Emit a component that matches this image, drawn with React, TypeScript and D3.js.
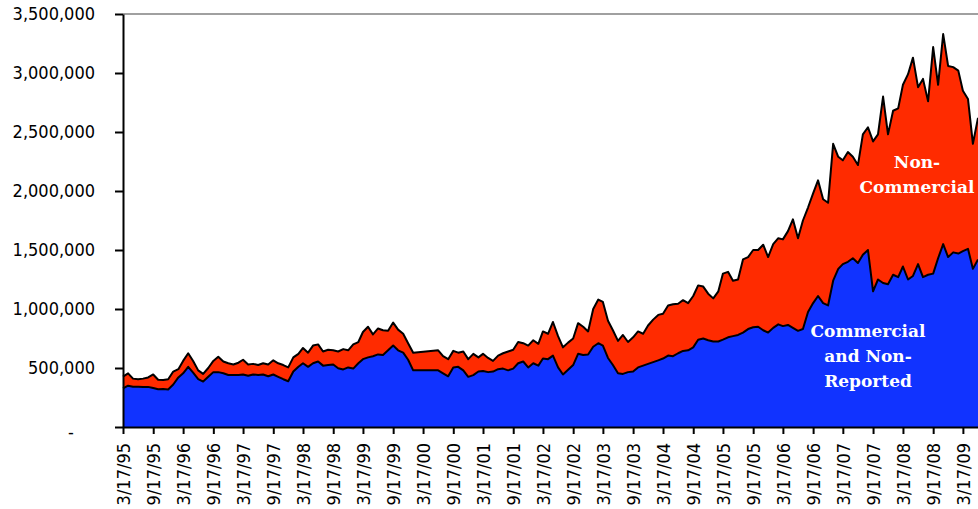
import React, { useEffect, useRef } from 'react';
import * as d3 from 'd3';

// monthly open interest (thousands of contracts), starting 3/17/95
const startDate = '3/17/95';

const totalOI = [
  427, 455, 410, 405, 410, 420, 445, 400, 398, 405, 470, 490,
  560, 625, 560, 480, 450, 500, 560, 595, 555, 540, 530, 545,
  570, 530, 535, 525, 540, 530, 565, 540, 525, 505, 590, 620,
  670, 630, 690, 700, 640, 655, 650, 640, 660, 650, 700, 720,
  805, 850, 785, 835, 820, 815, 885, 825, 790, 710, 630, null,
  null, null, null, 650, 600, 575, 645, 630, 640, 575, 620, 590,
  620, 585, 560, 605, 625, 640, 655, 720, 710, 690, 735, 705,
  810, 790, 890, 770, 675, 715, 750, 880, 850, 810, 1000, 1080,
  1060, 900, 820, 730, 780, 720, 760, 810, 790, 860, 910, 950,
  960, 1030, 1040, 1045, 1075, 1050, 1110, 1200, 1190, 1130, 1090, 1150,
  1300, 1315, 1240, 1250, 1420, 1440, 1500, 1500, 1545, 1440, 1550, 1600,
  1590, 1660, 1760, 1600, 1750, 1860, 1980, 2090, 1930, 1900, 2400, 2290,
  2260, 2330, 2290, 2220, 2480, 2540, 2420, 2480, 2800, 2480, 2680, 2700,
  2900, 2990, 3130, 2880, 2950, 2760, 3220, 2900, 3330, 3060, 3050, 3020,
  2850, 2780, 2400, 2620,
];

const commercialOI = [
  328, 350, 342, 342, 340, 340, 330, 320, 322, 318, 360, 420,
  455, 510, 460, 405, 385, 425, 465, 465, 455, 441, 440, 440,
  445, 435, 445, 440, 445, 430, 445, 425, 405, 388, 470, 510,
  540, 510, 540, 555, 520, 525, 530, 498, 488, 505, 495, 540,
  575, 590, 600, 615, 610, 650, 690, 650, 630, 570, 480, null,
  null, null, null, 480, 455, 430, 505, 510, 480, 425, 440, 470,
  475, 465, 470, 490, 495, 480, 495, 540, 555, 505, 540, 520,
  580, 575, 605, 505, 445, 485, 525, 620, 610, 615, 680, 710,
  690, 585, 525, 455, 450, 465, 470, 505, 520, 535, 550, 565,
  580, 605, 600, 625, 645, 650, 675, 740, 750, 735, 725, 725,
  740, 760, 770, 780, 800, 830, 845, 850, 820, 800, 840, 870,
  855, 865, 840, 815, 830, 975, 1050, 1110, 1050, 1030, 1240, 1340,
  1380, 1400, 1430, 1390, 1460, 1500, 1150, 1250, 1220, 1210, 1290, 1270,
  1360, 1250, 1280, 1380, 1270, 1290, 1300, 1430, 1550, 1440, 1480, 1470,
  1490, 1510, 1340, 1420,
];

const xTickLabels = [
  '3/17/95', '9/17/95', '3/17/96', '9/17/96', '3/17/97', '9/17/97', '3/17/98', '9/17/98',
  '3/17/99', '9/17/99', '3/17/00', '9/17/00', '3/17/01', '9/17/01', '3/17/02', '9/17/02',
  '3/17/03', '9/17/03', '3/17/04', '9/17/04', '3/17/05', '9/17/05', '3/17/06', '9/17/06',
  '3/17/07', '9/17/07', '3/17/08', '9/17/08', '3/17/09',
];

const yTickValues = [0, 500000, 1000000, 1500000, 2000000, 2500000, 3000000, 3500000];

const nonCommercialLabel = ['Non-', 'Commercial'];
const commercialLabel = ['Commercial', 'and Non-', 'Reported'];

const W = 978;
const H = 509;
const axisFont = "'DejaVu Sans Condensed', 'DejaVu Sans', sans-serif";
const labelFont = "'DejaVu Serif', serif";

const Chart = () => {
  const ref = useRef<SVGSVGElement>(null);

  useEffect(() => {
    if (!ref.current) return;
    const svg = d3.select(ref.current);
    svg.selectAll('*').remove();

    const margin = { top: 14, right: 0, bottom: 82, left: 123 };
    const parse = d3.timeParse('%m/%d/%y');
    const start = parse(startDate) as Date;
    const end = d3.timeMonth.offset(start, totalOI.length - 1);

    // skip the months with no report, Excel just joins across them
    const data = totalOI
      .map((t, i) => ({ date: d3.timeMonth.offset(start, i), total: t, commercial: commercialOI[i] }))
      .filter((d) => d.total != null && d.commercial != null) as { date: Date; total: number; commercial: number }[];

    const x = d3.scaleTime().domain([start, end]).range([margin.left, W - margin.right]);
    const y = d3.scaleLinear().domain([0, 3500000]).range([H - margin.bottom, margin.top]);

    const blueArea = d3
      .area<any>()
      .x((d) => x(d.date))
      .y0(y(0))
      .y1((d) => y(d.commercial * 1000));

    const redArea = d3
      .area<any>()
      .x((d) => x(d.date))
      .y0((d) => y(d.commercial * 1000))
      .y1((d) => y(d.total * 1000));

    const totalLine = d3.line<any>().x((d) => x(d.date)).y((d) => y(d.total * 1000));
    const commLine = d3.line<any>().x((d) => x(d.date)).y((d) => y(d.commercial * 1000));

    svg.append('path').datum(data).attr('d', blueArea).attr('fill', '#1133ff');
    svg.append('path').datum(data).attr('d', redArea).attr('fill', '#ff2b00');
    svg.append('path').datum(data).attr('d', commLine).attr('fill', 'none')
      .attr('stroke', '#000').attr('stroke-width', 2).attr('stroke-linejoin', 'round');
    svg.append('path').datum(data).attr('d', totalLine).attr('fill', 'none')
      .attr('stroke', '#000').attr('stroke-width', 2).attr('stroke-linejoin', 'round');

    // top border of plot area
    svg.append('line')
      .attr('x1', margin.left).attr('x2', W)
      .attr('y1', y(3500000)).attr('y2', y(3500000))
      .attr('stroke', '#a0a0a0').attr('stroke-width', 2);

    // y axis
    const yAxis = svg.append('g')
      .attr('transform', `translate(${margin.left},0)`)
      .call(
        d3.axisLeft(y)
          .tickValues(yTickValues)
          .tickSize(8)
          .tickSizeOuter(0)
          .tickPadding(20)
          .tickFormat((d) => (+d === 0 ? '' : d3.format(',')(+d)))
      );
    yAxis.select('.domain').attr('stroke', '#000').attr('stroke-width', 2);
    yAxis.selectAll('.tick line').attr('stroke', '#000').attr('stroke-width', 2);
    yAxis.selectAll('text')
      .attr('font-family', axisFont).attr('font-size', 18).attr('fill', '#000');

    // Excel accounting format shows zero as a dash
    svg.append('text')
      .attr('x', 71).attr('y', y(0) + 5)
      .attr('text-anchor', 'middle').attr('dy', '0.35em')
      .attr('font-family', axisFont).attr('font-size', 18)
      .text('-');

    // x axis
    const xTicks = xTickLabels.map((s) => parse(s) as Date);
    const xAxis = svg.append('g')
      .attr('transform', `translate(0,${y(0)})`)
      .call(
        d3.axisBottom(x)
          .tickValues(xTicks)
          .tickSize(7)
          .tickSizeOuter(0)
          .tickFormat((_, i) => xTickLabels[i])
      );
    xAxis.select('.domain').attr('stroke', '#000').attr('stroke-width', 2);
    xAxis.selectAll('.tick line').attr('stroke', '#000').attr('stroke-width', 2);
    xAxis.selectAll('text')
      .attr('font-family', axisFont).attr('font-size', 18).attr('fill', '#000')
      .attr('text-anchor', 'end')
      .attr('transform', 'rotate(-90)')
      .attr('x', -16).attr('y', 0).attr('dy', '0.35em');

    // series labels inside the areas
    svg.append('g')
      .selectAll('text')
      .data(nonCommercialLabel)
      .join('text')
      .attr('x', 917)
      .attr('y', (_, i) => 168 + i * 25)
      .attr('text-anchor', 'middle')
      .attr('font-family', labelFont).attr('font-weight', 'bold').attr('font-size', 17)
      .attr('fill', '#fff')
      .text((d) => d);

    svg.append('g')
      .selectAll('text')
      .data(commercialLabel)
      .join('text')
      .attr('x', 868)
      .attr('y', (_, i) => 337 + i * 25)
      .attr('text-anchor', 'middle')
      .attr('font-family', labelFont).attr('font-weight', 'bold').attr('font-size', 17)
      .attr('fill', '#fff')
      .text((d) => d);
  }, []);

  return (
    <svg
      ref={ref}
      width={W}
      height={H}
      style={{ position: 'absolute', left: 0, top: 0, background: '#fff' }}
    />
  );
};

export default function App() {
  return <Chart />;
}
